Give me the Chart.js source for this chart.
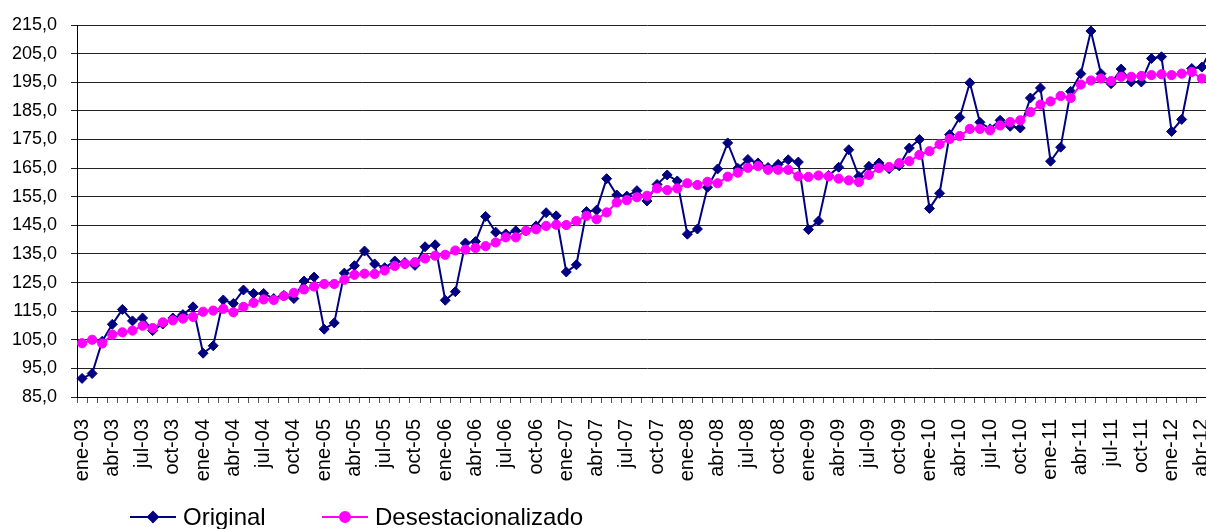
<!DOCTYPE html>
<html>
<head>
<meta charset="utf-8">
<script src="https://cdn.jsdelivr.net/npm/chart.js@4.4.1/dist/chart.umd.min.js"></script>
<style>
  html, body { margin: 0; padding: 0; background: #fff; overflow: hidden; }
  #wrap { position: absolute; left: 0; top: 0; width: 1223px; height: 529px; }
</style>
</head>
<body>
<div id="wrap"><canvas id="chart" width="1223" height="529"></canvas></div>
<script>
// ── Categories: monthly, ene-03 .. may-12 ──
const MONTHS = ["ene","feb","mar","abr","may","jun","jul","ago","sep","oct","nov","dic"];
const YEARS  = ["03","04","05","06","07","08","09","10","11","12"];
const N_MONTHS = 113;
const labels = [];
for (let i = 0; i < N_MONTHS; i++) labels.push(MONTHS[i % 12] + "-" + YEARS[Math.floor(i / 12)]);

// ── Series ──
const original = [
  91.5, 93.2, 104.5, 110.4, 115.6, 111.6, 112.6, 108.2, 110.5, 112.6, 113.8, 116.5,
  100.3, 102.9, 118.9, 117.7, 122.4, 121.2, 121.2, 119.4, 120.5, 119.4, 125.5, 126.9,
  108.7, 110.9, 128.3, 130.9, 136.0, 131.5, 130.2, 132.5, 132.0, 131.0, 137.5, 138.2,
  118.8, 121.8, 138.8, 139.3, 148.1, 142.6, 142.0, 143.1, 143.0, 144.8, 149.4, 148.3,
  128.7, 131.2, 149.8, 150.3, 161.3, 155.6, 155.2, 157.1, 153.5, 159.3, 162.6, 160.5,
  141.9, 143.7, 158.3, 164.7, 173.8, 164.9, 168.0, 166.8, 165.2, 166.3, 167.9, 167.1,
  143.5, 146.5, 162.4, 165.3, 171.4, 162.1, 165.6, 166.8, 164.8, 165.8, 172.0, 175.0,
  150.9, 156.2, 176.7, 182.7, 194.8, 181.0, 178.7, 181.7, 179.6, 179.0, 189.5, 193.0,
  167.4, 172.3, 191.8, 198.0, 212.9, 198.0, 194.5, 199.6, 195.1, 195.1, 203.3, 203.9,
  177.8, 182.0, 199.8, 200.3, 207.0
];
const desest = [
  103.8, 105.0, 103.7, 106.8, 107.6, 108.2, 109.9, 109.1, 111.1, 111.8, 112.4, 113.0,
  114.8, 115.2, 115.8, 114.6, 116.5, 117.9, 119.1, 118.9, 120.3, 121.4, 122.6, 123.6,
  124.5, 124.5, 126.0, 127.7, 128.1, 128.0, 129.2, 130.8, 131.5, 132.1, 133.4, 134.4,
  134.7, 136.2, 136.5, 137.1, 137.7, 139.0, 140.8, 140.8, 143.1, 143.6, 144.8, 145.2,
  145.1, 146.5, 148.3, 147.1, 149.5, 153.0, 153.8, 154.8, 155.3, 157.9, 157.3, 157.9,
  159.7, 159.1, 160.2, 159.7, 162.0, 163.4, 165.1, 165.7, 164.4, 164.4, 164.4, 162.1,
  161.9, 162.4, 162.1, 161.3, 160.7, 160.1, 162.6, 165.0, 165.4, 166.7, 167.4, 169.6,
  170.9, 173.3, 175.2, 176.2, 178.7, 178.7, 178.2, 179.9, 181.1, 181.7, 184.6, 187.2,
  188.3, 190.2, 189.5, 194.2, 195.6, 196.3, 195.4, 196.9, 196.9, 197.2, 197.5, 197.8,
  197.5, 198.0, 198.6, 196.3, 197.0
];

const NAVY = "#000080", MAGENTA = "#FF00FF";
const FONT = "'Liberation Sans', Arial, sans-serif";

// ── Legend drawn under the axis labels ──
const legendPlugin = {
  id: "bottomLegend",
  afterDraw(chart) {
    const ctx = chart.ctx;
    const items = [
      { text: "Original", color: NAVY, style: "rectRot", x0: 130 },
      { text: "Desestacionalizado", color: MAGENTA, style: "circle", x0: 322 }
    ];
    const y = 517;
    ctx.save();
    ctx.font = "24px " + FONT;
    ctx.textBaseline = "middle";
    for (const it of items) {
      ctx.strokeStyle = it.color; ctx.lineWidth = 2;
      ctx.beginPath(); ctx.moveTo(it.x0, y); ctx.lineTo(it.x0 + 46, y); ctx.stroke();
      ctx.fillStyle = it.color;
      Chart.helpers.drawPoint(ctx, { pointStyle: it.style, radius: 5, borderWidth: 1 }, it.x0 + 23, y);
      ctx.fill();
      ctx.fillStyle = "#000";
      ctx.fillText(it.text, it.x0 + 53, y + 1);
    }
    ctx.restore();
  }
};

new Chart(document.getElementById("chart"), {
  type: "line",
  data: {
    labels: labels,
    datasets: [
      { label: "Original", data: original, order: 1,
        borderColor: NAVY, backgroundColor: NAVY, borderWidth: 2,
        pointStyle: "rectRot", pointRadius: 5, pointBorderWidth: 1,
        pointBackgroundColor: NAVY, pointBorderColor: NAVY, tension: 0 },
      { label: "Desestacionalizado", data: desest, order: 0,
        borderColor: MAGENTA, backgroundColor: MAGENTA, borderWidth: 2,
        pointStyle: "circle", pointRadius: 4.6, pointBorderWidth: 1,
        pointBackgroundColor: MAGENTA, pointBorderColor: MAGENTA, tension: 0 }
    ]
  },
  options: {
    responsive: false, animation: false, devicePixelRatio: 1,
    layout: { padding: { left: 0, top: 25, right: 0, bottom: 37 } },
    plugins: { legend: { display: false }, tooltip: { enabled: false } },
    scales: {
      x: {
        type: "category", offset: true,
        grid: { offset: true, drawOnChartArea: false, drawTicks: true, tickLength: 6, color: "#555" },
        border: { color: "#000", width: 1 },
        ticks: {
          autoSkip: false, minRotation: 90, maxRotation: 90, padding: 16,
          color: "#000", font: { family: FONT, size: 20 },
          callback: (v, i) => (i % 3 === 0 ? labels[i] : "")
        },
        afterFit: (s) => { s.height = 95; s.paddingLeft = 0; s.paddingRight = 0; }
      },
      y: {
        min: 85, max: 215,
        grid: { color: "#222", lineWidth: 1, tickLength: 6 },
        border: { color: "#000", width: 1 },
        ticks: {
          stepSize: 10, padding: 14, color: "#000", font: { family: FONT, size: 18 },
          callback: (v) => v.toFixed(1).replace(".", ",")
        },
        afterFit: (s) => { s.width = 77; }
      }
    }
  },
  plugins: [legendPlugin]
});
</script>
</body>
</html>
